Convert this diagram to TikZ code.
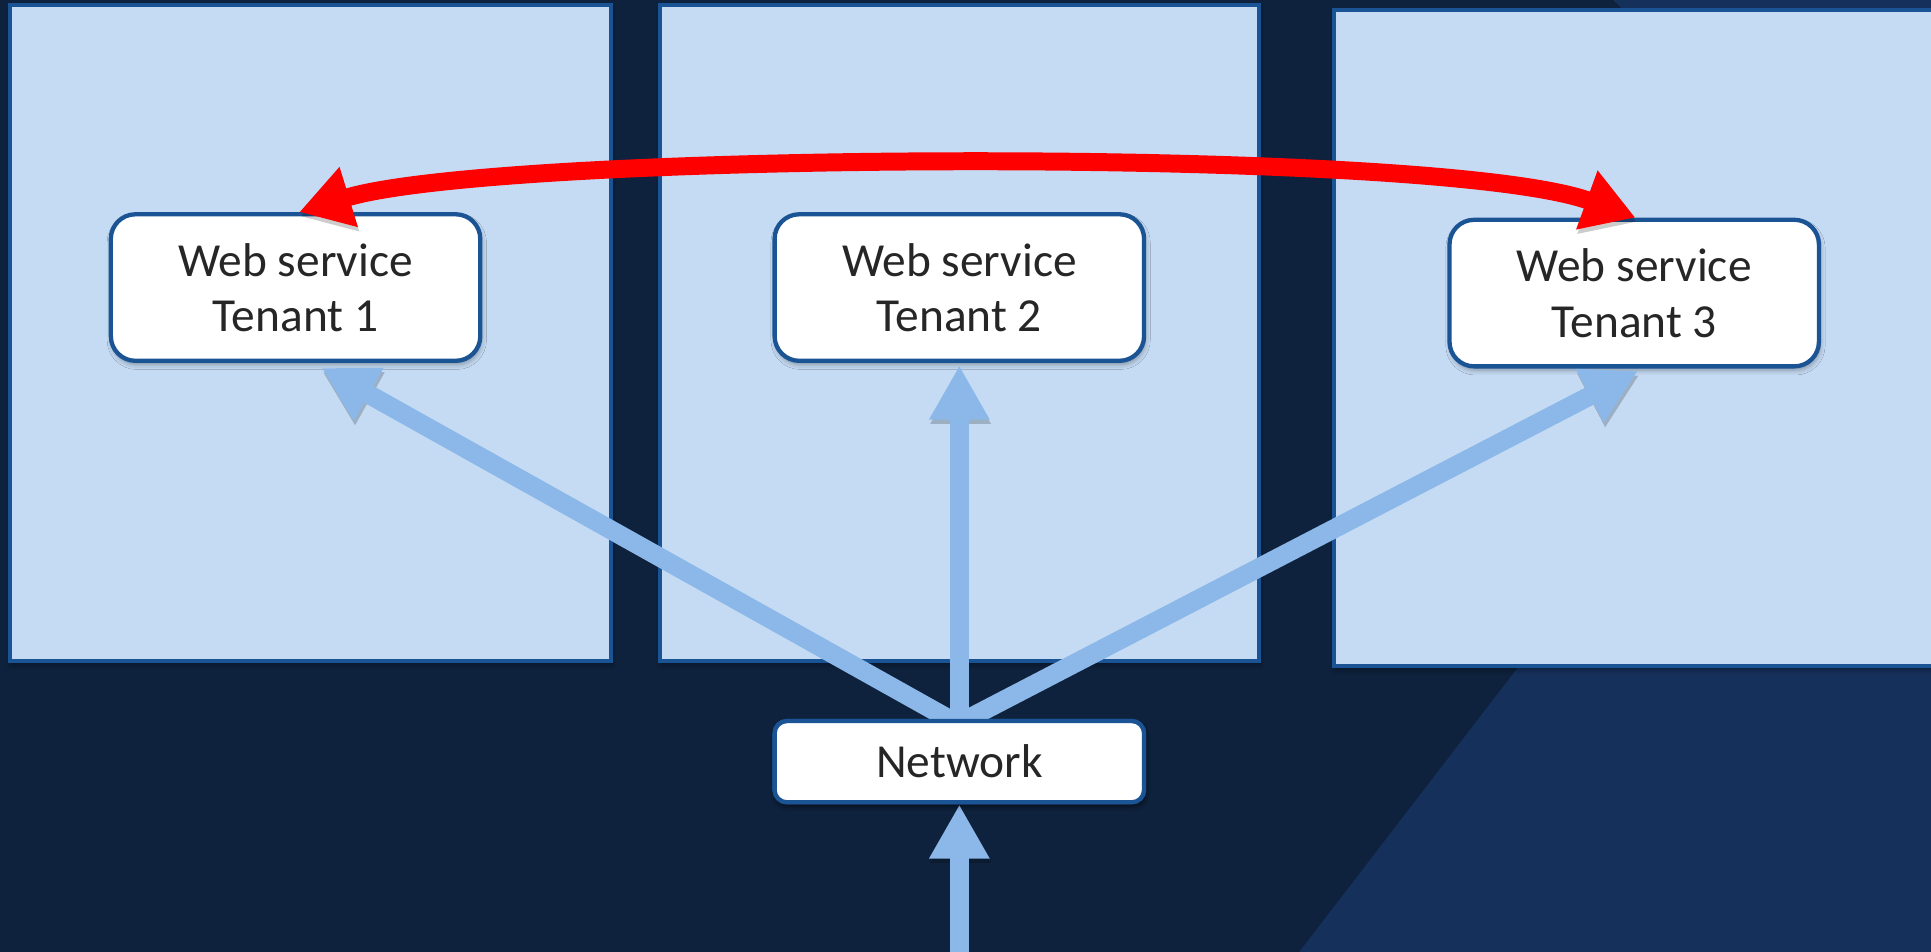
\documentclass[tikz,border=0pt]{standalone}
\usepackage{fontspec}
\setmainfont{Carlito}
\usetikzlibrary{arrows.meta,shadows.blur}

\definecolor{bgdark}{HTML}{0E223D}
\definecolor{bglight}{HTML}{15305A}
\definecolor{panelfill}{HTML}{C5DBF3}
\definecolor{edgeblue}{HTML}{1B5494}
\definecolor{flowblue}{HTML}{8CB8E9}
\definecolor{textgray}{HTML}{262626}

\tikzset{
  soft shadow/.style={blur shadow={shadow xshift=1pt, shadow yshift=-3pt,
    shadow blur radius=4pt, shadow opacity=35}},
  panel/.style={fill=panelfill, draw=edgeblue, line width=3.2pt, soft shadow},
  svcbox/.style={rectangle, rounded corners=20pt, fill=white, draw=edgeblue,
    line width=3.5pt, minimum width=300pt, minimum height=119pt,
    align=center, text=textgray, inner sep=0pt,
    font=\fontsize{38.5}{45}\selectfont, soft shadow},
  netbox/.style={svcbox, rounded corners=10pt, minimum height=66pt},
  stroke shadow/.style={preaction={draw=black, opacity=0.2,
    transform canvas={xshift=1pt, yshift=-3.5pt}}},
  flow/.style={draw=flowblue, line width=15.4pt, stroke shadow,
    -{Triangle[length=44pt, width=46pt]}},
  link/.style={draw=red, line width=14.6pt, stroke shadow,
    {Triangle[length=42pt, width=48pt]}-{Triangle[length=42pt, width=48pt]}}
}

\begin{document}
\begin{tikzpicture}[x=1pt, y=1pt]
  \useasboundingbox (0,0) rectangle (1568,773);
  \clip (0,0) rectangle (1568,773);

  % background with lighter diagonal planes
  \fill[bgdark] (0,0) rectangle (1568,773);
  \fill[bglight] (1310,773) -- (1568,773) -- (1568,515) -- cycle;
  \fill[bglight] (1055,0) -- (1568,0) -- (1568,380) -- (1347,380) -- cycle;

  % tenant panels
  \draw[panel] (8,236) rectangle (496,769);
  \draw[panel] (536,236) rectangle (1022,769);
  \draw[panel] (1083,232) rectangle (1590,765);

  % services and network
  \node[svcbox] (t1) at (240,539.5) {Web service\\Tenant 1};
  \node[svcbox] (t2) at (779,539.5) {Web service\\Tenant 2};
  \node[svcbox] (t3) at (1327,535) {Web service\\Tenant 3};
  \node[netbox] (net) at (779,154.5) {Network};
  \coordinate (inlet) at (779,-20);

  % incoming traffic and fan-out to tenants
  \path[flow] (inlet) -- (net.south);
  \path[flow] ([xshift=-5pt,yshift=-2pt]net.north) -- ([xshift=21pt,yshift=-4pt]t1.south);
  \path[flow] ([yshift=-2pt]net.north) -- ([yshift=-2pt]t2.south);
  \path[flow] ([xshift=3pt,yshift=-2pt]net.north) -- ([xshift=3pt,yshift=-2pt]t3.south);

  % redraw the network box above the arrow tails
  \node[netbox] at (net.center) {Network};

  % cross-tenant link
  \path[link] ([xshift=3pt]t1.north) .. controls +(17:170) and +(160:170) .. ([xshift=1pt]t3.north);
\end{tikzpicture}
\end{document}
